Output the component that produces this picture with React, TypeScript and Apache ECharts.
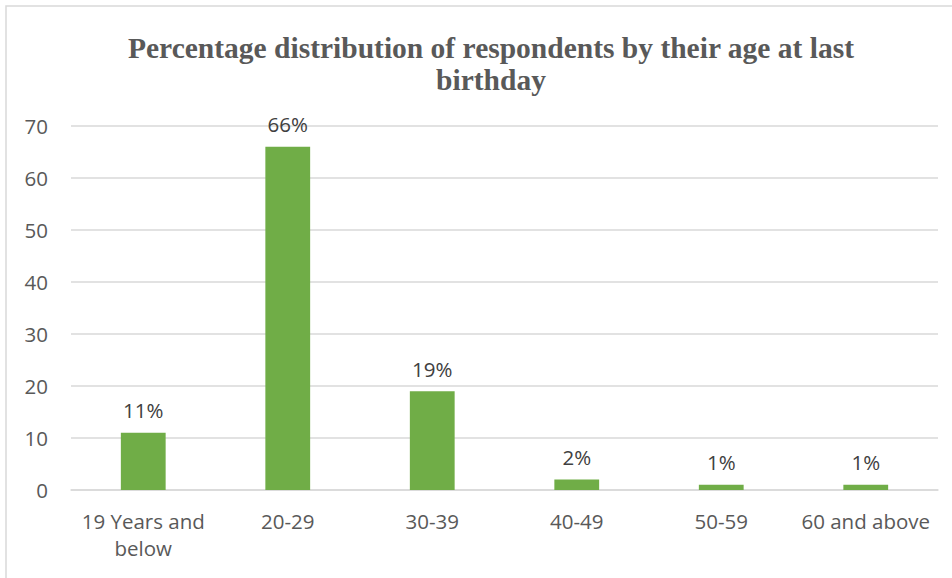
import React, { useEffect, useRef } from "react";
import * as echarts from "echarts";

// Age groups of respondents and their share (%)
const categories = ["19 Years and\nbelow", "20-29", "30-39", "40-49", "50-59", "60 and above"];
const percentages = [11, 66, 19, 2, 1, 1];
const yTicks = { min: 0, max: 70, interval: 10 };
const titleText = "Percentage distribution of respondents by their age at last\nbirthday";

export default function App() {
  const ref = useRef<HTMLDivElement>(null);

  useEffect(() => {
    if (!ref.current) return;
    const chart = echarts.init(ref.current, undefined, { renderer: "svg" });
    const labelFont = "'Open Sans', 'Noto Sans', sans-serif";
    chart.setOption({
      animation: false,
      backgroundColor: "#ffffff",
      title: {
        text: titleText,
        left: 486,
        top: 27,
        textAlign: "center",
        textStyle: {
          fontFamily: "'Liberation Serif', 'DejaVu Serif', serif",
          fontWeight: "bold",
          fontSize: 29.5,
          lineHeight: 32,
          color: "#595959",
        },
      },
      graphic: [
        {
          type: "rect",
          shape: { x: 6, y: 6, width: 1000, height: 700 },
          style: { fill: "none", stroke: "#D9D9D9", lineWidth: 1.5 },
          silent: true,
        },
      ],
      grid: { left: 71, right: 14, top: 126, bottom: 88, containLabel: false },
      xAxis: {
        type: "category",
        data: categories,
        axisLine: { show: true, lineStyle: { color: "#D9D9D9", width: 1.5 } },
        axisTick: { show: false },
        axisLabel: {
          color: "#595959",
          fontFamily: labelFont,
          fontSize: 20.5,
          lineHeight: 27,
          margin: 17,
          interval: 0,
        },
      },
      yAxis: {
        type: "value",
        min: yTicks.min,
        max: yTicks.max,
        interval: yTicks.interval,
        axisLine: { show: false },
        axisTick: { show: false },
        splitLine: { lineStyle: { color: "#D9D9D9", width: 1.5 } },
        axisLabel: {
          color: "#595959",
          fontFamily: labelFont,
          fontSize: 20.5,
          margin: 23,
        },
      },
      series: [
        {
          type: "bar",
          data: percentages,
          barWidth: "31%",
          itemStyle: { color: "#70AD47" },
          label: {
            show: true,
            position: "top",
            distance: 12,
            formatter: "{c}%",
            color: "#404040",
            fontFamily: labelFont,
            fontSize: 20.5,
          },
        },
      ],
    });
    return () => chart.dispose();
  }, []);

  return (
    <div
      ref={ref}
      style={{ position: "fixed", left: 0, top: 0, width: 952, height: 578 }}
    />
  );
}
